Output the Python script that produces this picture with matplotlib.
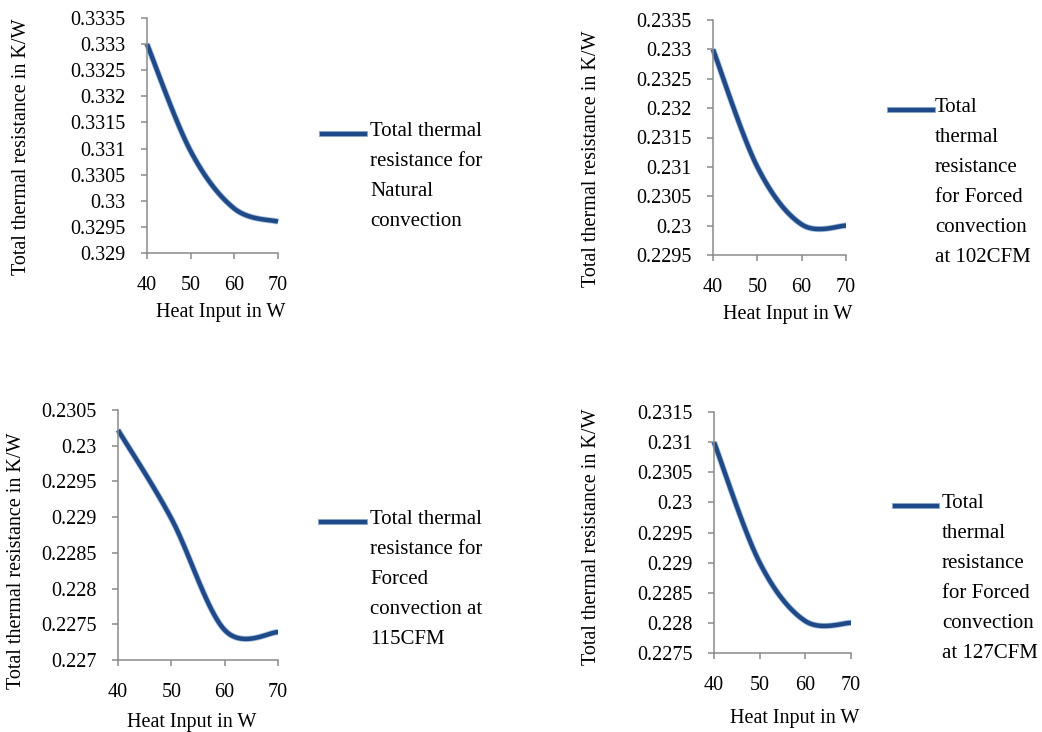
import numpy as np
import matplotlib
matplotlib.use('Agg')
import matplotlib.pyplot as plt
from matplotlib.lines import Line2D

plt.rcParams['font.family'] = ['Liberation Serif', 'DejaVu Serif']

heat_input = [40, 50, 60, 70]

r_natural = [0.3330, 0.33095, 0.32985, 0.3296]
r_102cfm = [0.2330, 0.2310, 0.23002, 0.2300]
r_115cfm = [0.23022, 0.22898, 0.22742, 0.22739]
r_127cfm = [0.2310, 0.2290, 0.22803, 0.2280]

labels = [
    'Total thermal\nresistance for\nNatural\nconvection',
    'Total\nthermal\nresistance\nfor Forced\nconvection\nat 102CFM',
    'Total thermal\nresistance for\nForced\nconvection at\n115CFM',
    'Total\nthermal\nresistance\nfor Forced\nconvection\nat 127CFM',
]

y_ranges = [(0.3290, 0.3335), (0.2295, 0.2335), (0.2270, 0.2305), (0.2275, 0.2315)]

W, H = 1042, 732

# axes boxes in pixels: left, top, right, bottom
boxes = [(147, 18, 278, 253), (713, 20, 846, 255), (118, 410, 278, 660), (714, 412, 851, 653)]
# legend handle x0, x1, y ; text x
legends = [(322, 365, 134, 370), (890, 933, 110, 935), (321, 365, 522, 370), (895, 937, 506, 942)]
ylabel_pos = [(22, 147), (592, 159), (17, 561), (592, 537)]
xlabel_pos = [(221, 313), (788, 315), (192, 722), (795, 718)]

LINE = '#1f4a87'
EDGE = '#6f98cc'
SPINE = '#8a8a8a'
FS = 14.5


def excel_smooth(x, y, n=40):
    # cubic bezier through points, catmull-rom style control points
    x = np.asarray(x, float)
    y = np.asarray(y, float)
    px = np.concatenate([[x[0]], x, [x[-1]]])
    py = np.concatenate([[y[0]], y, [y[-1]]])
    xs, ys = [], []
    t = np.linspace(0, 1, n)
    for i in range(len(x) - 1):
        p0 = np.array([px[i + 1], py[i + 1]])
        p3 = np.array([px[i + 2], py[i + 2]])
        c1 = p0 + (np.array([px[i + 2], py[i + 2]]) - np.array([px[i], py[i]])) / 6
        c2 = p3 - (np.array([px[i + 3], py[i + 3]]) - np.array([px[i + 1], py[i + 1]])) / 6
        b = ((1 - t) ** 3)[:, None] * p0 + (3 * (1 - t) ** 2 * t)[:, None] * c1 \
            + (3 * (1 - t) * t ** 2)[:, None] * c2 + (t ** 3)[:, None] * p3
        xs.extend(b[:, 0])
        ys.extend(b[:, 1])
    return np.array(xs), np.array(ys)


fig = plt.figure(figsize=(W / 100, H / 100), dpi=100)

series = [r_natural, r_102cfm, r_115cfm, r_127cfm]
for k, vals in enumerate(series):
    l, t, r, b = boxes[k]
    ax = fig.add_axes([l / W, 1 - b / H, (r - l) / W, (b - t) / H])
    sx, sy = excel_smooth(heat_input, vals)
    ax.plot(sx, sy, color=EDGE, lw=4.4, solid_capstyle='butt', alpha=0.6, clip_on=False)
    ax.plot(sx, sy, color=LINE, lw=3.2, solid_capstyle='butt', clip_on=False)
    ax.set_xlim(40, 70)
    y0, y1 = y_ranges[k]
    ax.set_ylim(y0, y1)
    yt = np.round(np.arange(y0, y1 + 1e-7, 0.0005), 4)
    ax.set_yticks(yt)
    ax.set_yticklabels(['{:g}'.format(v) for v in yt])
    ax.set_xticks(heat_input)
    for s in ['top', 'right']:
        ax.spines[s].set_visible(False)
    for s in ['left', 'bottom']:
        ax.spines[s].set_color(SPINE)
        ax.spines[s].set_linewidth(1.1)
    ax.tick_params(axis='both', direction='out', length=4.5, width=1.1, color=SPINE,
                   labelsize=FS, labelcolor='black')
    ax.tick_params(axis='y', pad=11)
    ax.tick_params(axis='x', pad=12)

    fig.text(ylabel_pos[k][0] / W, 1 - ylabel_pos[k][1] / H, 'Total thermal resistance in K/W',
             rotation=90, ha='center', va='center', fontsize=FS)
    fig.text(xlabel_pos[k][0] / W, 1 - xlabel_pos[k][1] / H, 'Heat Input in W',
             ha='center', va='center', fontsize=FS)

    hx0, hx1, hy, tx = legends[k]
    fig.add_artist(Line2D([hx0 / W, hx1 / W], [1 - hy / H, 1 - hy / H], color=EDGE,
                          lw=4.4, alpha=0.6, transform=fig.transFigure))
    fig.add_artist(Line2D([hx0 / W, hx1 / W], [1 - hy / H, 1 - hy / H], color=LINE,
                          lw=3.2, transform=fig.transFigure))
    fig.text(tx / W, 1 - (hy - 12) / H, labels[k], ha='left', va='top', fontsize=15,
             linespacing=1.78)

fig.savefig('out.png', dpi=100)
